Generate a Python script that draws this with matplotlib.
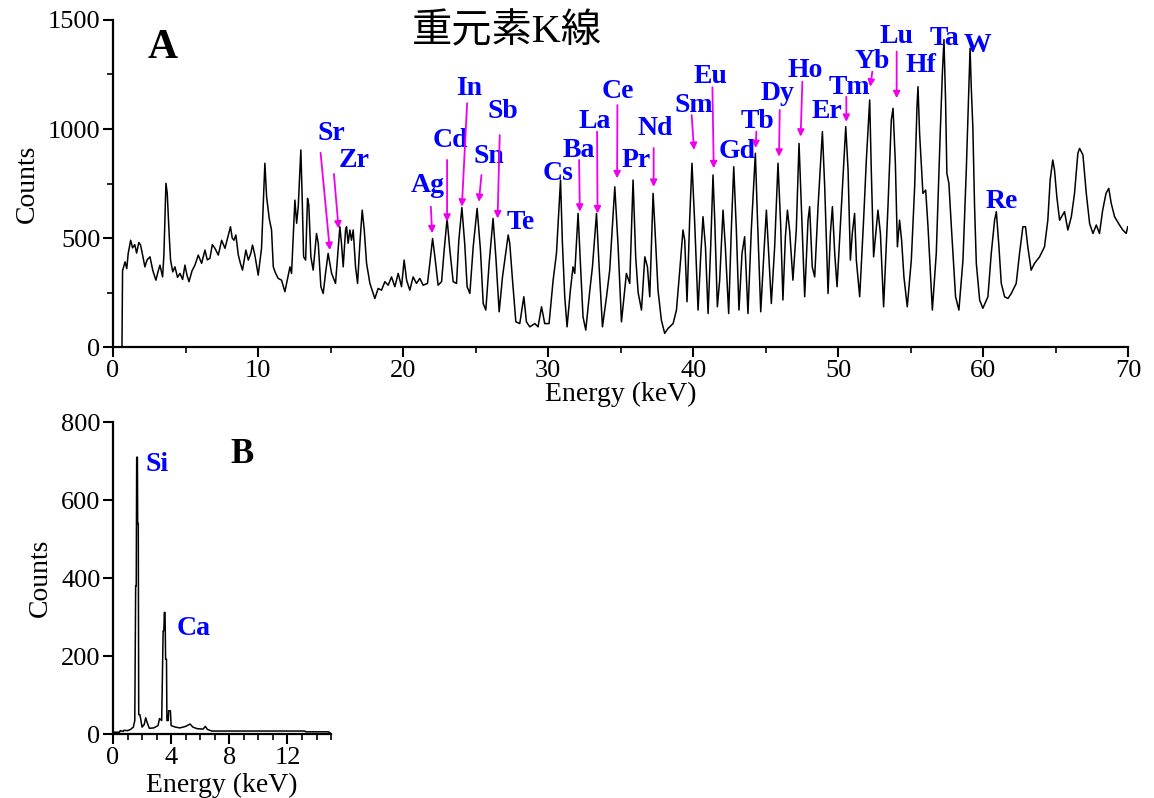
import matplotlib
matplotlib.use("Agg")
import matplotlib.pyplot as plt
from matplotlib.ticker import MultipleLocator

plt.rcParams['font.family'] = ['Liberation Serif', 'Noto Sans CJK JP']

# --- panel A spectrum (keV, counts)
a_kev = [0.0, 0.55, 0.62, 0.66, 0.83, 0.95, 1.05, 1.22, 1.35, 1.5, 1.63, 1.78, 1.9, 2.05, 2.2, 2.35,
         2.55, 2.75, 2.96, 3.1, 3.24, 3.42, 3.51, 3.65, 3.74, 3.88, 3.97, 4.12, 4.27, 4.45, 4.62, 4.8,
         4.96, 5.1, 5.24, 5.45, 5.65, 5.88, 6.11, 6.34, 6.5, 6.68, 6.85, 7.03, 7.26, 7.49, 7.72, 7.9,
         8.1, 8.22, 8.34, 8.47, 8.64, 8.8, 8.93, 9.16, 9.33, 9.5, 9.62, 9.78, 10.01, 10.24, 10.47, 10.59,
         10.77, 10.93, 11.05, 11.2, 11.39, 11.62, 11.85, 12.2, 12.31, 12.54, 12.66, 12.77, 12.95, 13.04,
         13.14, 13.28, 13.41, 13.5, 13.64, 13.8, 14.03, 14.15, 14.33, 14.49, 14.65, 14.83, 15.07, 15.34,
         15.48, 15.64, 15.75, 15.87, 16.03, 16.1, 16.21, 16.33, 16.44, 16.56, 16.72, 16.86, 17.02, 17.18,
         17.32, 17.48, 17.71, 17.94, 18.05, 18.28, 18.51, 18.74, 18.97, 19.2, 19.43, 19.66, 19.89, 20.07,
         20.24, 20.46, 20.69, 20.92, 21.15, 21.38, 21.68, 21.84, 22.03, 22.19, 22.41, 22.65, 22.83, 23.03,
         23.22, 23.45, 23.68, 23.84, 24.05, 24.25, 24.41, 24.6, 24.83, 25.1, 25.33, 25.52, 25.7, 25.93,
         26.2, 26.39, 26.62, 26.85, 27.24, 27.35, 27.54, 27.77, 28.04, 28.32, 28.5, 28.73, 29.08, 29.3,
         29.54, 29.76, 30.06, 30.34, 30.57, 30.85, 30.98, 31.14, 31.3, 31.53, 31.71, 31.83, 32.06, 32.22,
         32.4, 32.59, 32.87, 33.05, 33.33, 33.51, 33.74, 34.02, 34.24, 34.59, 34.82, 35.05, 35.39, 35.62,
         35.85, 36.03, 36.2, 36.43, 36.66, 36.84, 37.0, 37.23, 37.34, 37.57, 37.8, 38.03, 38.26, 38.61,
         38.84, 39.07, 39.29, 39.41, 39.57, 39.75, 39.91, 40.1, 40.33, 40.51, 40.67, 40.84, 41.02, 41.2,
         41.36, 41.48, 41.66, 41.82, 42.05, 42.21, 42.44, 42.63, 42.79, 42.97, 43.15, 43.36, 43.54, 43.77,
         44.0, 44.28, 44.42, 44.65, 44.88, 45.04, 45.15, 45.38, 45.61, 45.84, 46.02, 46.18, 46.35, 46.49,
         46.64, 46.87, 47.1, 47.29, 47.45, 47.68, 47.91, 48.02, 48.2, 48.37, 48.6, 48.9, 49.06, 49.29,
         49.45, 49.59, 49.75, 49.91, 50.21, 50.51, 50.67, 50.83, 50.96, 51.12, 51.24, 51.47, 51.74, 51.93,
         52.16, 52.27, 52.43, 52.62, 52.73, 52.9, 53.12, 53.42, 53.65, 53.77, 53.93, 54.07, 54.22, 54.36,
         54.52, 54.75, 55.03, 55.26, 55.42, 55.49, 55.6, 55.83, 56.02, 56.18, 56.48, 56.75, 57.03, 57.17,
         57.28, 57.39, 57.48, 57.62, 57.79, 58.08, 58.31, 58.59, 58.82, 59.0, 59.08, 59.16, 59.27, 59.39,
         59.51, 59.74, 59.96, 60.31, 60.54, 60.77, 60.89, 61.07, 61.23, 61.46, 61.69, 61.92, 62.26, 62.49,
         62.72, 62.9, 63.06, 63.29, 63.52, 63.87, 64.21, 64.44, 64.6, 64.78, 64.9, 65.06, 65.25, 65.59,
         65.82, 66.06, 66.28, 66.51, 66.63, 66.86, 67.09, 67.32, 67.55, 67.78, 68.0, 68.22, 68.45, 68.64,
         68.81, 69.04, 69.38, 69.61, 69.84, 69.95]
a_counts = [0, 0, 0, 350, 391, 360, 430, 490, 455, 470, 431, 480, 468, 420, 368, 400,
            414, 350, 307, 345, 376, 322, 422, 751, 706, 506, 399, 345, 368, 320, 338, 310,
            376, 330, 300, 350, 376, 422, 384, 445, 400, 407, 470, 453, 422, 490, 453, 500,
            552, 500, 490, 514, 422, 380, 353, 445, 399, 430, 468, 422, 330, 453, 843, 689,
            590, 537, 368, 340, 315, 307, 254, 368, 338, 674, 568, 644, 904, 689,
            414, 399, 682, 651, 414, 353, 521, 476, 277, 246, 338, 430, 338, 292,
            414, 552, 476, 368, 537, 552, 476, 537, 490, 537, 368, 292, 476, 628,
            537, 384, 292, 246, 223, 269, 261, 300, 284, 322, 277, 338, 277, 399,
            307, 261, 322, 292, 315, 284, 292, 384, 498, 414, 284, 300, 445, 590,
            445, 300, 292, 490, 640, 470, 277, 246, 460, 636, 445, 200, 170, 384,
            590, 414, 162, 322, 514, 476, 307, 116, 108, 231, 116, 93, 108, 93,
            185, 108, 108, 307, 430, 766, 476, 231, 93, 261, 368, 338, 613, 384,
            139, 78, 261, 368, 613, 368, 93, 231, 353, 735, 460, 116, 338, 292,
            766, 414, 250, 170, 414, 368, 231, 705, 567, 261, 124, 63, 86, 108,
            170, 353, 537, 490, 208, 582, 843, 567, 170, 414, 598, 460, 154, 460,
            789, 582, 185, 307, 628, 460, 154, 552, 827, 537, 170, 430, 506, 154,
            537, 889, 598, 162, 445, 628, 490, 200, 460, 843, 567, 216, 506, 628,
            537, 307, 537, 934, 644, 231, 582, 644, 368, 322, 644, 988, 735, 246,
            521, 644, 430, 277, 644, 1011, 812, 399, 521, 613, 399, 231, 582, 858,
            1133, 812, 414, 552, 628, 521, 185, 644, 1041, 1095, 843, 460, 582, 490,
            322, 185, 399, 735, 1102, 1194, 980, 705, 720, 552, 170, 430, 995, 1255,
            1410, 1133, 797, 751, 552, 231, 170, 399, 812, 1194, 1370, 1194, 1011, 644,
            384, 216, 178, 231, 430, 582, 621, 460, 292, 231, 223, 246, 292, 430,
            552, 552, 460, 353, 384, 414, 460, 582, 766, 858, 812, 689, 582, 621,
            537, 598, 705, 889, 911, 881, 705, 567, 521, 560, 521, 628, 705, 728,
            659, 598, 560, 537, 521, 552]

# element labels of panel A: name, label x, label baseline y
a_elements = ['Sr', 'Zr', 'Ag', 'Cd', 'In', 'Sn', 'Sb', 'Te', 'Cs', 'Ba', 'La', 'Ce', 'Pr', 'Nd',
              'Sm', 'Eu', 'Gd', 'Tb', 'Dy', 'Ho', 'Er', 'Tm', 'Yb', 'Lu', 'Hf', 'Ta', 'W', 'Re']
a_label_x = [15.02, 16.60, 21.70, 23.29, 24.53, 25.94, 26.87, 28.08, 30.66, 32.09, 33.21, 34.79, 36.08, 37.41,
             40.03, 41.20, 43.03, 44.41, 45.82, 47.68, 49.23, 50.78, 52.33, 54.02, 55.72, 57.32, 59.56, 61.23]
a_label_y = [949, 826, 712, 917, 1156, 845, 1050, 540, 766, 873, 1005, 1142, 827, 972,
             1079, 1211, 867, 1005, 1133, 1238, 1052, 1160, 1280, 1396, 1263, 1385, 1353, 639]

# arrows: tail (x, y) -> head (x, y)
arrow_tail_x = [14.31, 15.23, 21.91, 23.03, 24.41, 25.40, 26.66, 32.13, 33.37, 34.77, 37.27, 39.89, 41.32,
                44.35, 45.96, 47.52, 50.55, 52.34, 54.02]
arrow_tail_y = [891, 794, 644, 858, 1118, 789, 972, 858, 988, 1110, 913, 1064, 1191,
                988, 1087, 1217, 1148, 1263, 1355]
arrow_head_x = [14.95, 15.55, 22.0, 23.03, 24.05, 25.22, 26.51, 32.18, 33.40, 34.75, 37.27, 40.05, 41.41,
                44.30, 45.91, 47.40, 50.55, 52.20, 54.02]
arrow_head_y = [445, 544, 522, 575, 644, 666, 590, 621, 613, 774, 735, 904, 820,
                913, 873, 965, 1033, 1194, 1141]

# --- panel B spectrum
b_kev = [0.0, 0.45, 0.5, 0.7, 0.75, 1.0, 1.2, 1.4, 1.5, 1.56, 1.6, 1.63, 1.68, 1.7, 1.74, 1.77, 1.85,
         1.9, 2.0, 2.15, 2.25, 2.35, 2.5, 2.8, 3.1, 3.2, 3.35, 3.45, 3.5, 3.53, 3.58, 3.62, 3.68, 3.71,
         3.8, 3.83, 3.95, 4.0, 4.3, 4.6, 5.0, 5.3, 5.5, 5.8, 6.2, 6.35, 6.5, 6.8, 13.2, 13.25, 14.8, 15.0]
b_counts = [5, 5, 9, 7, 10, 9, 12, 18, 35, 380, 380, 710, 710, 540, 540, 50, 50,
            40, 18, 25, 42, 30, 15, 16, 22, 40, 35, 265, 265, 312, 312, 192, 192, 35,
            35, 60, 60, 22, 18, 16, 20, 26, 18, 14, 13, 20, 12, 8, 8, 6, 6, 2]
b_elements = ['Si', 'Ca']
b_label_x = [3.0, 5.58]
b_label_y = [674, 255]

blue = '#0000ff'
magenta = '#ee00ee'
tick_fs = 19
elem_fs = 20

fig = plt.figure(figsize=(11.54, 7.98), dpi=100)
ax = fig.add_axes([0.0979, 0.565, 0.880, 0.410])
axb = fig.add_axes([0.0979, 0.080, 0.189, 0.391])

for a in (ax, axb):
    a.spines['top'].set_visible(False)
    a.spines['right'].set_visible(False)
    a.spines['left'].set_linewidth(1.6)
    a.spines['bottom'].set_linewidth(1.6)
    a.tick_params(which='major', direction='out', length=7, width=1.5, labelsize=tick_fs, pad=2)
    a.tick_params(which='minor', direction='out', length=4, width=1.2)

ax.plot(a_kev, a_counts, color='black', lw=1.1)
ax.set_xlim(0, 70)
ax.set_ylim(0, 1500)
ax.xaxis.set_major_locator(MultipleLocator(10))
ax.xaxis.set_minor_locator(MultipleLocator(5))
ax.yaxis.set_major_locator(MultipleLocator(500))
ax.yaxis.set_minor_locator(MultipleLocator(250))
ax.set_xlabel('Energy (keV)', fontsize=20, labelpad=0)
ax.set_ylabel('Counts', fontsize=20, labelpad=6)

for name, x, y in zip(a_elements, a_label_x, a_label_y):
    ax.text(x, y, name, color=blue, fontsize=elem_fs, fontweight='bold', ha='center', va='baseline')
for tx, ty, hx, hy in zip(arrow_tail_x, arrow_tail_y, arrow_head_x, arrow_head_y):
    ax.annotate('', xy=(hx, hy), xytext=(tx, ty),
                arrowprops=dict(arrowstyle='-|>', color=magenta, lw=1.3, mutation_scale=10,
                                shrinkA=0, shrinkB=0))
ax.text(3.44, 1326, 'A', fontsize=30, fontweight='bold', ha='center', va='baseline')

axb.plot(b_kev, b_counts, color='black', lw=1.1)
axb.set_xlim(0, 15)
axb.set_ylim(0, 800)
axb.xaxis.set_major_locator(MultipleLocator(4))
axb.xaxis.set_minor_locator(MultipleLocator(1))
axb.yaxis.set_major_locator(MultipleLocator(200))
axb.set_xlabel('Energy (keV)', fontsize=20, labelpad=3)
axb.set_ylabel('Counts', fontsize=20, labelpad=6)
for name, x, y in zip(b_elements, b_label_x, b_label_y):
    axb.text(x, y, name, color=blue, fontsize=elem_fs, fontweight='bold', ha='center', va='baseline')
axb.text(8.86, 695, 'B', fontsize=25, fontweight='bold', ha='center', va='baseline')

fig.text(0.439, 0.959, '重元素K線', fontsize=29, ha='center', va='center')

fig.savefig('out.png', dpi=100)
